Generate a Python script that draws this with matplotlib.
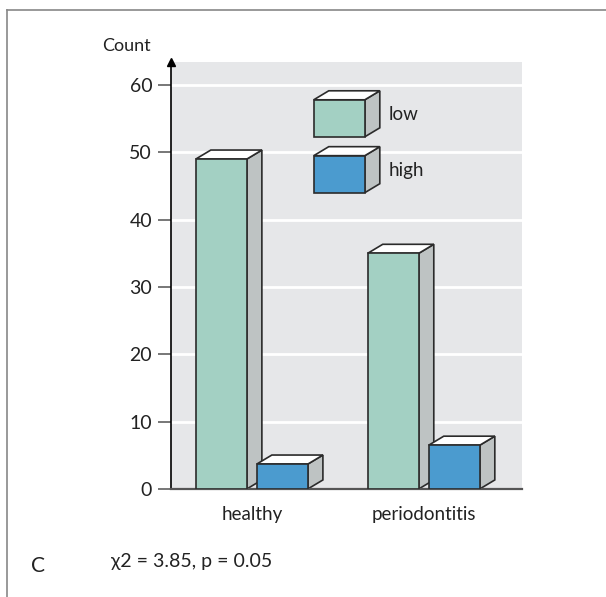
import matplotlib
matplotlib.use("Agg")
import matplotlib.pyplot as plt
from matplotlib.patches import Polygon
from matplotlib.lines import Line2D

plt.rcParams['font.family'] = ['Lato', 'DejaVu Sans']

groups = ["healthy", "periodontitis"]
low = [49, 35]
high = [3.7, 6.5]
series_names = ["low", "high"]
colors = ["#a3d0c3", "#4b9bcf"]
side_color = "#bec3c3"
edge = "#2b2b2b"

fig = plt.figure(figsize=(6.06, 5.97), dpi=100)
ax = fig.add_axes([0.282, 0.181, 0.579, 0.715])
ax.set_xlim(-0.471, 1.570)
ax.set_ylim(0, 63.4)
ax.set_facecolor("#e6e7e9")

yticks = [0, 10, 20, 30, 40, 50, 60]
ax.set_yticks(yticks)
ax.set_yticklabels([str(t) for t in yticks], fontsize=14, color="#222")
for t in yticks[1:]:
    ax.axhline(t, color="white", lw=2, zorder=0.5)
ax.tick_params(axis="y", length=9.5, width=1.4, color="#777", pad=4)
ax.set_xticks([])
for s in ["top", "right"]:
    ax.spines[s].set_visible(False)
ax.spines["left"].set_color("black")
ax.spines["left"].set_linewidth(1.2)
ax.spines["bottom"].set_color("#555")
ax.spines["bottom"].set_linewidth(1.6)
# arrow head on the y axis
ax.plot([-0.471], [63.4], marker="^", color="black", markersize=6,
        clip_on=False, zorder=5)

# depth of the 3d boxes, in pixels -> data units
px_x = (1.570 + 0.471) / (0.579 * 606)
px_y = 63.4 / (0.715 * 597)
dx, dy = 15 * px_x, 9 * px_y


def draw_box(x0, w, y0, y1, color):
    front = Polygon([(x0, y0), (x0 + w, y0), (x0 + w, y1), (x0, y1)],
                    closed=True, fc=color, ec=edge, lw=1.2, zorder=3)
    side = Polygon([(x0 + w, y0), (x0 + w + dx, y0 + dy), (x0 + w + dx, y1 + dy),
                    (x0 + w, y1)], closed=True, fc=side_color, ec=edge, lw=1.2, zorder=2)
    top = Polygon([(x0, y1), (x0 + dx, y1 + dy), (x0 + w + dx, y1 + dy),
                   (x0 + w, y1)], closed=True, fc="white", ec=edge, lw=1.2, zorder=2)
    for p in (side, top, front):
        ax.add_patch(p)


bar_w = 0.297
offsets = [-0.326, 0.029]
for i, g in enumerate(groups):
    draw_box(i + offsets[0], bar_w, 0, low[i], colors[0])
    draw_box(i + offsets[1], bar_w, 0, high[i], colors[1])
    ax.text(i, -2.5, g, ha="center", va="top", fontsize=13.5, color="#222")

# legend boxes
leg_x = 0.360
leg_rows = [(52.3, 57.8), (44.0, 49.5)]
for (y0, y1), c, name in zip(leg_rows, colors, series_names):
    draw_box(leg_x, bar_w, y0, y1, c)
    ax.text(leg_x + bar_w + dx + 0.05, (y0 + y1) / 2 + 0.5, name,
            ha="left", va="center", fontsize=13.5, color="#222")

fig.text(102 / 606, 1 - 46 / 597, "Count", ha="left", va="center", fontsize=13, color="#222")
fig.text(37.5 / 606, 1 - 566 / 597, "C", ha="center", va="center", fontsize=15, color="#222")
fig.text(272 / 606, 1 - 561 / 597, "χ2 = 3.85, p = 0.05", ha="right", va="center",
         fontsize=14, color="#222")

# frame lines along the top and left edge
fig.add_artist(Line2D([7 / 606, 1], [1 - 10 / 597, 1 - 10 / 597], color="#888", lw=1.2))
fig.add_artist(Line2D([7 / 606, 7 / 606], [0, 1 - 10 / 597], color="#888", lw=1.2))

fig.savefig("out.png", dpi=100)
